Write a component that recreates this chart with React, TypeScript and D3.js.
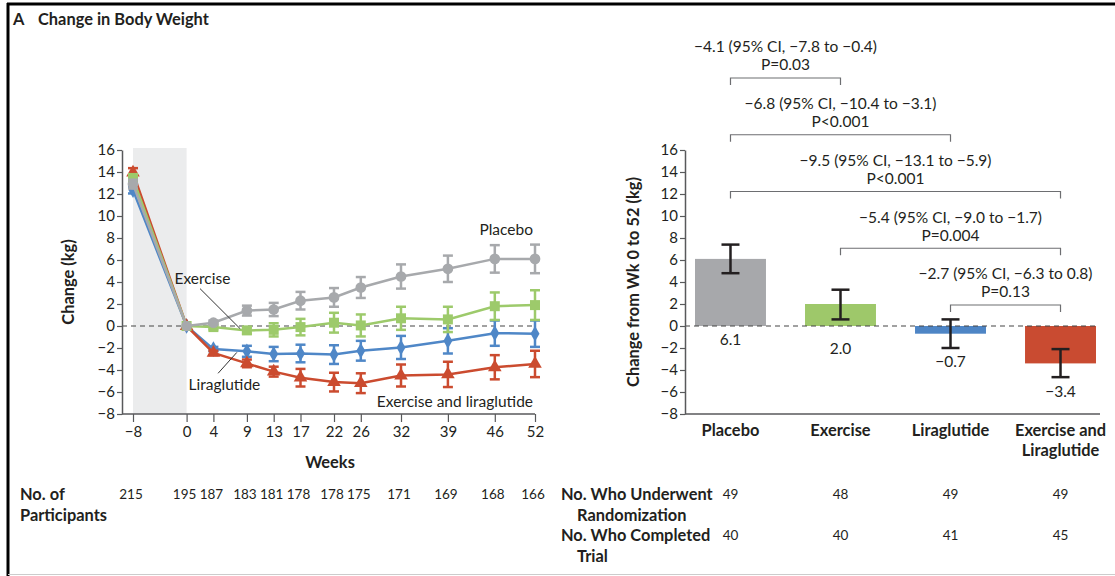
import React, { useRef, useEffect } from "react";
import * as d3 from "d3";

const width = 1115;
const height = 576;
const font = "Lato, 'Open Sans', sans-serif";
const ink = "#231f20";
const axisInk = "#58595b";
const fsText = 15.5; // annotations
const fsBold = 16.4; // titles and table headers
const fsNum = 15; // tick labels and counts
const fsCount = 13.5; // participant counts under weeks

// left panel: mean change by week
const weeks = [-8, 0, 4, 9, 13, 17, 22, 26, 32, 39, 46, 52];
const placeboMean = [12.9, 0, 0.3, 1.4, 1.5, 2.3, 2.6, 3.5, 4.5, 5.2, 6.1, 6.1];
const placeboErr = [0.4, 0, 0.2, 0.45, 0.6, 0.8, 0.85, 0.95, 1.1, 1.2, 1.25, 1.3];
const exerciseMean = [13.4, 0, -0.1, -0.4, -0.35, -0.1, 0.3, 0.05, 0.7, 0.6, 1.8, 1.9];
const exerciseErr = [0.4, 0, 0.2, 0.3, 0.6, 0.75, 0.9, 1.0, 1.05, 1.15, 1.25, 1.35];
const liraMean = [12.35, 0, -2.1, -2.3, -2.55, -2.5, -2.6, -2.25, -1.95, -1.35, -0.65, -0.7];
const liraErr = [0.3, 0, 0.2, 0.5, 0.65, 0.8, 0.85, 0.9, 1.05, 1.15, 1.15, 1.2];
const comboMean = [13.95, 0, -2.45, -3.4, -4.15, -4.7, -5.1, -5.2, -4.5, -4.4, -3.75, -3.45];
const comboErr = [0.4, 0, 0.2, 0.35, 0.45, 0.8, 0.85, 0.9, 1.0, 1.15, 1.1, 1.2];
const participants = [215, 195, 187, 183, 181, 178, 178, 175, 171, 169, 168, 166];

// right panel: change from week 0 to 52
const groups = ["Placebo", "Exercise", "Liraglutide", "Exercise and Liraglutide"];
const change = [6.1, 2.0, -0.7, -3.4];
const ciLow = [4.8, 0.6, -2.0, -4.65];
const ciHigh = [7.4, 3.3, 0.6, -2.1];
const randomized = [49, 48, 49, 49];
const completed = [40, 40, 41, 45];
const compFrom = [0, 0, 0, 1, 2];
const compTo = [1, 2, 3, 3, 3];
const compDiff = [
  "−4.1 (95% CI, −7.8 to −0.4)",
  "−6.8 (95% CI, −10.4 to −3.1)",
  "−9.5 (95% CI, −13.1 to −5.9)",
  "−5.4 (95% CI, −9.0 to −1.7)",
  "−2.7 (95% CI, −6.3 to 0.8)",
];
const compP = ["P=0.03", "P<0.001", "P<0.001", "P=0.004", "P=0.13"];

const yTicks = d3.range(-8, 17, 2);

const colors = {
  placebo: "#a7a9ac",
  exercise: "#9dca6b",
  lira: "#4f87c7",
  combo: "#cb4b2f",
};
const barColors = ["#a7a8ab", "#9ec86a", "#4e85c5", "#c94b31"];

const xL = d3.scaleLinear().domain([-8, 52]).range([133, 535]);
const yL = d3.scaleLinear().domain([-8, 16]).range([414, 150]);
const yR = d3.scaleLinear().domain([-8, 16]).range([414, 150]);
const xR = d3
  .scaleBand()
  .domain(groups)
  .range([685, 1106])
  .paddingInner(0.355)
  .paddingOuter(0.091);

const series = [
  { key: "lira", mean: liraMean, err: liraErr, symbol: d3.symbolDiamond, size: 70 },
  { key: "combo", mean: comboMean, err: comboErr, symbol: d3.symbolTriangle, size: 80 },
  { key: "exercise", mean: exerciseMean, err: exerciseErr, symbol: d3.symbolSquare, size: 100 },
  { key: "placebo", mean: placeboMean, err: placeboErr, symbol: d3.symbolCircle, size: 90 },
];

const line = d3
  .line<number>()
  .x((_, i) => xL(weeks[i]))
  .y((d) => yL(d));

const styleAxis = (g) => {
  g.attr("font-family", font).attr("font-size", fsNum).attr("color", axisInk);
  g.selectAll(".domain").attr("stroke-width", 1.5);
  g.selectAll(".tick line").attr("stroke-width", 1.2);
  g.selectAll(".tick text").attr("fill", ink);
};

const Series = ({ s }) => {
  const color = colors[s.key];
  const sym = d3.symbol().type(s.symbol).size(s.size)();
  return (
    <g>
      <path d={line(s.mean) || ""} fill="none" stroke={color} strokeWidth={2.5} />
      {s.mean.map((m, i) =>
        s.err[i] > 0 ? (
          <g key={"e" + i} stroke={color} strokeWidth={2.5}>
            <line x1={xL(weeks[i])} x2={xL(weeks[i])} y1={yL(m - s.err[i])} y2={yL(m + s.err[i])} />
            <line x1={xL(weeks[i]) - 5} x2={xL(weeks[i]) + 5} y1={yL(m - s.err[i])} y2={yL(m - s.err[i])} />
            <line x1={xL(weeks[i]) - 5} x2={xL(weeks[i]) + 5} y1={yL(m + s.err[i])} y2={yL(m + s.err[i])} />
          </g>
        ) : null
      )}
      {s.mean.map((m, i) => (
        <path key={"m" + i} d={sym || ""} transform={`translate(${xL(weeks[i])},${yL(m)})`} fill={color} />
      ))}
    </g>
  );
};

const App = () => {
  const yAxisL = useRef(null);
  const xAxisL = useRef(null);
  const yAxisR = useRef(null);

  useEffect(() => {
    d3.select(yAxisL.current)
      .call(d3.axisLeft(yL).tickValues(yTicks).tickSize(5).tickSizeOuter(0).tickPadding(2))
      .call(styleAxis);
    d3.select(yAxisR.current)
      .call(d3.axisLeft(yR).tickValues(yTicks).tickSize(5).tickSizeOuter(0).tickPadding(2))
      .call(styleAxis);
    const xa = d3.select(xAxisL.current);
    xa.call(d3.axisBottom(xL).tickValues(weeks).tickSize(8).tickSizeOuter(0).tickPadding(4)).call(styleAxis);
    xa.select(".domain").remove();
  }, []);

  const zero = yL(0);
  const bw = xR.bandwidth();
  const cx = (i) => (xR(groups[i]) || 0) + bw / 2;

  return (
    <svg
      width={width}
      height={height}
      style={{ position: "absolute", left: 0, top: 0, background: "#fff" }}
      fontFamily={font}
    >
      {/* frame */}
      <line x1={7} x2={width} y1={4} y2={4} stroke="#000" strokeWidth={3} />
      <line x1={8} x2={8} y1={3} y2={height} stroke="#000" strokeWidth={3} />
      <line x1={8} x2={width} y1={574.5} y2={574.5} stroke="#ccc" strokeWidth={1} />

      <text x={13} y={19} dy="0.35em" fontSize={fsBold} fontWeight="bold" fill={ink}>
        A
      </text>
      <text x={38} y={19} dy="0.35em" fontSize={fsBold} fontWeight="bold" fill={ink}>
        Change in Body Weight
      </text>

      {/* left panel */}
      <rect x={xL(-8)} y={yL(16) - 2} width={xL(0) - xL(-8)} height={yL(-8) - yL(16) + 2} fill="#ebeced" />
      <line x1={122} x2={xL(52)} y1={zero} y2={zero} stroke="#444" strokeDasharray="5,4" strokeWidth={1.2} />
      <g ref={yAxisL} transform="translate(122,0)" />
      <line x1={122} x2={xL(52)} y1={yL(-8)} y2={yL(-8)} stroke={axisInk} strokeWidth={1.5} />
      <g ref={xAxisL} transform={`translate(0,${yL(-8)})`} />

      {series.map((s) => (
        <Series key={s.key} s={s} />
      ))}

      <text x={xL(52) - 2} y={yL(8.8)} dy="0.35em" textAnchor="end" fontSize={fsText} fill={ink}>
        Placebo
      </text>
      <text x={xL(-1.8)} y={yL(4.3)} dy="0.35em" fontSize={fsText} fill={ink}>
        Exercise
      </text>
      <line x1={xL(2)} y1={yL(3.4)} x2={xL(8)} y2={yL(-0.25)} stroke="#333" strokeWidth={1} />
      <text x={xL(0.3)} y={yL(-5.3)} dy="0.35em" fontSize={fsText} fill={ink}>
        Liraglutide
      </text>
      <line x1={xL(4.7)} y1={yL(-4.3)} x2={xL(7.5)} y2={yL(-2.4)} stroke="#333" strokeWidth={1} />
      <text x={xL(52) - 2} y={yL(-6.85)} dy="0.35em" textAnchor="end" fontSize={fsText} fill={ink}>
        Exercise and liraglutide
      </text>

      <text
        transform={`translate(68,${(yL(16) + yL(-8)) / 2}) rotate(-90)`}
        textAnchor="middle"
        dy="0.35em"
        fontSize={fsBold}
        fontWeight="bold"
        fill={ink}
      >
        Change (kg)
      </text>
      <text x={330} y={462} dy="0.35em" textAnchor="middle" fontSize={fsBold} fontWeight="bold" fill={ink}>
        Weeks
      </text>

      {/* participants table */}
      <text x={20} y={494} dy="0.35em" fontSize={fsBold} fontWeight="bold" fill={ink}>
        No. of
      </text>
      <text x={20} y={515} dy="0.35em" fontSize={fsBold} fontWeight="bold" fill={ink}>
        Participants
      </text>
      {participants.map((n, i) => (
        <text key={i} x={xL(weeks[i]) - 2} y={494} dy="0.35em" textAnchor="middle" fontSize={fsCount} fill={ink}>
          {n}
        </text>
      ))}

      {/* right panel */}
      {change.map((v, i) => (
        <rect
          key={groups[i]}
          x={xR(groups[i])}
          y={yR(Math.max(0, v))}
          width={bw}
          height={Math.abs(yR(v) - yR(0))}
          fill={barColors[i]}
        />
      ))}
      <line x1={685} x2={1098} y1={yR(0)} y2={yR(0)} stroke="#444" strokeDasharray="5,4" strokeWidth={1.2} />
      {change.map((v, i) => (
        <g key={"ci" + i} stroke="#231f20" strokeWidth={2.5}>
          <line x1={cx(i)} x2={cx(i)} y1={yR(ciLow[i])} y2={yR(ciHigh[i])} />
          <line x1={cx(i) - 9} x2={cx(i) + 9} y1={yR(ciLow[i])} y2={yR(ciLow[i])} />
          <line x1={cx(i) - 9} x2={cx(i) + 9} y1={yR(ciHigh[i])} y2={yR(ciHigh[i])} />
        </g>
      ))}
      {change.map((v, i) => (
        <text
          key={"v" + i}
          x={cx(i)}
          y={yR(Math.min(0, ciLow[i])) + 14 + (i === 1 ? 9 : 0)}
          dy="0.35em"
          textAnchor="middle"
          fontSize={fsText}
          fill={ink}
        >
          {d3.format(".1f")(v).replace("-", "−")}
        </text>
      ))}
      <g ref={yAxisR} transform="translate(685,0)" />
      <line x1={685} x2={1100} y1={yR(-8)} y2={yR(-8)} stroke={axisInk} strokeWidth={1.5} />
      <text
        transform={`translate(633,${(yR(16) + yR(-8)) / 2}) rotate(-90)`}
        textAnchor="middle"
        dy="0.35em"
        fontSize={fsBold}
        fontWeight="bold"
        fill={ink}
      >
        Change from Wk 0 to 52 (kg)
      </text>
      {groups.map((g, i) =>
        i < 3 ? (
          <text key={g} x={cx(i)} y={430} dy="0.35em" textAnchor="middle" fontSize={fsBold} fontWeight="bold" fill={ink}>
            {g}
          </text>
        ) : (
          <text key={g} x={cx(i)} y={430} dy="0.35em" textAnchor="middle" fontSize={fsBold} fontWeight="bold" fill={ink}>
            <tspan x={cx(i)}>Exercise and</tspan>
            <tspan x={cx(i)} dy="1.25em">
              Liraglutide
            </tspan>
          </text>
        )
      )}

      {/* comparison brackets */}
      {compDiff.map((t, k) => {
        const by = 78 + k * 56.75;
        const x1 = cx(compFrom[k]);
        const x2 = cx(compTo[k]);
        const mid = (x1 + x2) / 2;
        return (
          <g key={"c" + k}>
            <path d={`M${x1},${by + 7}V${by}H${x2}V${by + 7}`} fill="none" stroke="#6d6e71" strokeWidth={1.2} />
            <text x={mid} y={by - 31} dy="0.35em" textAnchor="middle" fontSize={fsText} fill={ink}>
              {t}
            </text>
            <text x={mid} y={by - 13} dy="0.35em" textAnchor="middle" fontSize={fsText} fill={ink}>
              {compP[k]}
            </text>
          </g>
        );
      })}

      {/* randomization table */}
      <text x={561} y={494} dy="0.35em" fontSize={fsBold} fontWeight="bold" fill={ink}>
        No. Who Underwent
      </text>
      <text x={577} y={515} dy="0.35em" fontSize={fsBold} fontWeight="bold" fill={ink}>
        Randomization
      </text>
      <text x={561} y={535} dy="0.35em" fontSize={fsBold} fontWeight="bold" fill={ink}>
        No. Who Completed
      </text>
      <text x={577} y={556} dy="0.35em" fontSize={fsBold} fontWeight="bold" fill={ink}>
        Trial
      </text>
      {randomized.map((n, i) => (
        <text key={"r" + i} x={cx(i)} y={494} dy="0.35em" textAnchor="middle" fontSize={fsCount} fill={ink}>
          {n}
        </text>
      ))}
      {completed.map((n, i) => (
        <text key={"d" + i} x={cx(i)} y={535} dy="0.35em" textAnchor="middle" fontSize={fsCount} fill={ink}>
          {n}
        </text>
      ))}
    </svg>
  );
};

export default App;
